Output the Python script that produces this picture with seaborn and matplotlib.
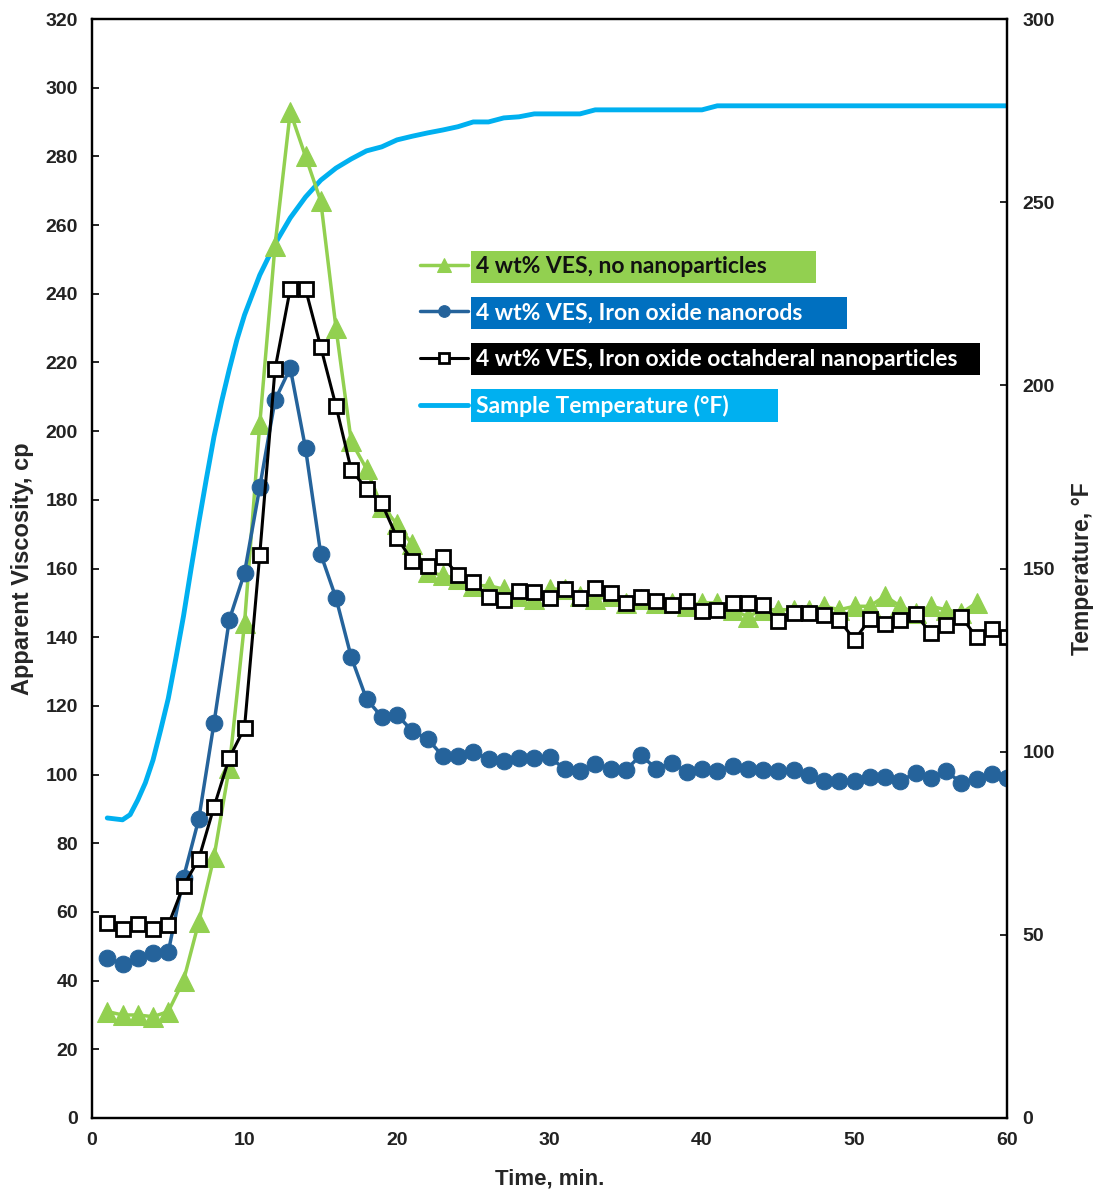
import matplotlib
matplotlib.use("Agg")
import matplotlib.pyplot as plt
import seaborn as sns

# ---------------- data ----------------
time_min = list(range(1, 61))
time_none = list(range(1, 59))

visc_none = [31, 30, 30, 29.5, 31, 40, 57, 76, 102, 144,
             202, 254, 293, 280, 267, 230, 197, 189, 178, 173,
             167, 159, 158, 157, 155, 155, 154, 152, 151, 154,
             154, 152, 151, 152, 150, 151, 150, 150, 149, 150,
             150, 148, 146, 148, 148, 148, 148, 149, 148, 149,
             149, 152, 149, 147, 149, 148, 147, 150]

visc_rods = [46.6, 44.8, 46.6, 48, 48.3, 70, 87, 115, 145, 158.7,
             183.7, 209, 218.4, 195, 164.2, 151.4, 134.2, 122, 116.8, 117.4,
             112.7, 110.4, 105.4, 105.4, 106.6, 104.5, 104, 104.8, 104.8, 105.1,
             101.6, 101, 103.1, 101.6, 101.3, 105.7, 101.6, 103.4, 100.8, 101.6,
             101, 102.5, 101.6, 101.3, 101, 101.3, 99.9, 98.1, 98.1, 98.1,
             99.3, 99.3, 98.1, 100.5, 99, 101, 97.6, 98.7, 100.2, 99]

visc_octa = [56.8, 55, 56.5, 55, 56.2, 67.6, 75.4, 90.6, 104.8, 113.6,
             164, 218, 241.4, 241.4, 224.5, 207.3, 188.7, 183.2, 179, 169,
             162.2, 160.7, 163.4, 158.1, 156.1, 151.7, 150.8, 153.5, 153.2, 151.4,
             154, 151.4, 154.3, 152.9, 150, 151.7, 150.4, 149.4, 150.4, 147.5,
             147.8, 149.9, 150.1, 149.4, 144.7, 147.1, 147.1, 146.5, 145, 139.2,
             145.2, 143.9, 145, 146.8, 141.1, 143.6, 146, 140, 142.3, 140]

temp_time = [1, 2, 2.5, 3, 3.5, 4, 4.5, 5, 5.5, 6, 6.5, 7, 7.5, 8, 8.5, 9, 9.5,
             10, 11, 12, 13, 14, 15, 16, 17, 18, 19, 20, 21, 22, 23, 24, 25,
             26, 27, 28, 29, 30, 31, 32, 33, 34, 35, 36, 37, 38, 39, 40, 41,
             42, 43, 44, 45, 46, 47, 48, 49, 50, 51, 52, 53, 54, 55, 56, 57,
             58, 59, 60]
temp_F = [81.9, 81.4, 82.8, 86.8, 91.5, 97.7, 105.9, 114.5, 125.5, 137, 150,
          162.5, 174.5, 186, 195.6, 204.3, 212.4,
          219.2, 230.1, 238.6, 245.7, 251.4, 256, 259.3, 261.8, 264, 265.1,
          267, 268, 268.9, 269.7, 270.6, 271.9, 271.9, 273, 273.3, 274.1,
          274.1, 274.1, 274.1, 275.2, 275.2, 275.2, 275.2, 275.2, 275.2, 275.2,
          275.2, 276.3, 276.3, 276.3, 276.3, 276.3, 276.3, 276.3, 276.3, 276.3,
          276.3, 276.3, 276.3, 276.3, 276.3, 276.3, 276.3, 276.3, 276.3, 276.3,
          276.3]

labels = ["4 wt% VES, no nanoparticles",
          "4 wt% VES, Iron oxide nanorods",
          "4 wt% VES, Iron oxide octahderal nanoparticles",
          "Sample Temperature (\u00b0F)"]

# ---------------- style ----------------
sns.set_theme(style="white")
plt.rcParams['font.family'] = ['Liberation Sans', 'DejaVu Sans']

GREEN = "#92D050"
BLUE = "#25639B"
BLACK = "#000000"
CYAN = "#00B0F0"

W, H = 1099, 1195
fig = plt.figure(figsize=(W / 100, H / 100), dpi=100)
ax = fig.add_axes([92 / W, 1 - 1118 / H, 915 / W, 1099 / H])
ax2 = ax.twinx()
ax.set_zorder(ax2.get_zorder() + 1)
ax.patch.set_visible(False)

# temperature (right axis)
sns.lineplot(x=temp_time, y=temp_F, ax=ax2, color=CYAN, linewidth=3.5,
             label=labels[3], legend=False)

# viscosity series
sns.lineplot(x=time_none, y=visc_none, ax=ax, color=GREEN, linewidth=2.5,
             marker="^", markersize=14, markeredgecolor=GREEN,
             label=labels[0], legend=False)
sns.lineplot(x=time_min, y=visc_rods, ax=ax, color=BLUE, linewidth=2.5,
             marker="o", markersize=12, markeredgecolor=BLUE,
             label=labels[1], legend=False)
sns.lineplot(x=time_min, y=visc_octa, ax=ax, color=BLACK, linewidth=2.2,
             marker="s", markersize=10, markerfacecolor="white",
             markeredgecolor=BLACK, markeredgewidth=2,
             label=labels[2], legend=False)

# axes limits & ticks
ax.set_xlim(0, 60)
ax.set_ylim(0, 320)
ax2.set_ylim(0, 300)
ax.set_xticks(range(0, 61, 10))
ax.set_yticks(range(0, 321, 20))
ax2.set_yticks(range(0, 301, 50))

for a in (ax, ax2):
    a.tick_params(direction="in", length=5, width=1.2, labelsize=14,
                  colors="black", labelcolor="#222222")
    for s in a.spines.values():
        s.set_color("black")
        s.set_linewidth(1.6)
    for lab in a.get_xticklabels() + a.get_yticklabels():
        lab.set_fontweight("bold")
ax.tick_params(axis="x", pad=10)
ax.tick_params(axis="y", pad=10)
ax2.tick_params(axis="y", pad=11)
ax.grid(False)
ax2.grid(False)

ax.set_xlabel("Time, min.", fontsize=16, fontweight="bold", labelpad=14)
ax.set_ylabel("Apparent Viscosity, cp", fontsize=17, fontweight="bold", labelpad=8)
ax2.set_ylabel("Temperature, \u00b0F", fontsize=16.5, fontweight="bold", labelpad=12)

# legend with coloured label boxes
h1, l1 = ax.get_legend_handles_labels()
h2, l2 = ax2.get_legend_handles_labels()
handles = h1 + h2
pads = ["        ", "       ", "   ", "        "]
leg_labels = [l + p for l, p in zip(l1 + l2, pads)]
leg = ax.legend(handles, leg_labels, loc="upper left",
                bbox_to_anchor=(0.336, 0.803), frameon=False,
                handlelength=2.1, handletextpad=0.35, labelspacing=1.1,
                markerscale=0.7,
                prop={"family": ["Lato", "DejaVu Sans"], "weight": "bold", "size": 16.5})
box_fc = [GREEN, "#0070C0", "#000000", CYAN]
txt_c = ["#111111", "white", "white", "white"]
for t, fc, tc in zip(leg.get_texts(), box_fc, txt_c):
    t.set_color(tc)
    t.set_bbox(dict(facecolor=fc, edgecolor="none", pad=4))

fig.savefig("out.png", dpi=100)
